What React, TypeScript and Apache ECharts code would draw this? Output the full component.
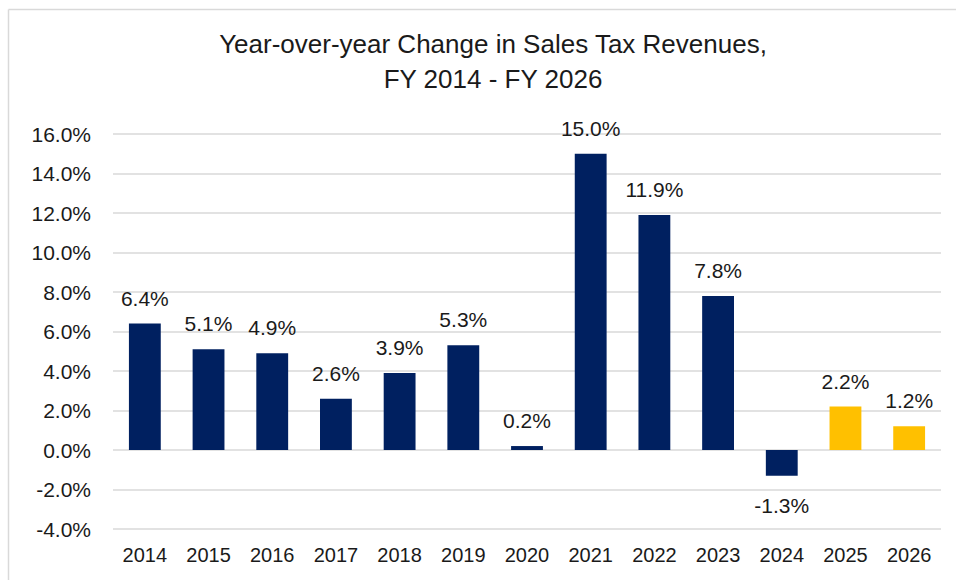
import React, { useEffect, useRef } from "react";
import * as echarts from "echarts";

const categories = ["2014", "2015", "2016", "2017", "2018", "2019", "2020", "2021", "2022", "2023", "2024", "2025", "2026"];
const values = [6.4, 5.1, 4.9, 2.6, 3.9, 5.3, 0.2, 15.0, 11.9, 7.8, -1.3, 2.2, 1.2];
const projected = [false, false, false, false, false, false, false, false, false, false, false, true, true];
const titleLines = ["Year-over-year Change in Sales Tax Revenues,", "FY 2014 - FY 2026"];

const NAVY = "#002060";
const GOLD = "#FFC000";
const FONT = "'Liberation Sans', Arial, sans-serif";
const TEXT = "#1a1a1a";

export default function App() {
  const ref = useRef<HTMLDivElement>(null);
  useEffect(() => {
    if (!ref.current) return;
    const chart = echarts.init(ref.current, undefined, { renderer: "svg" });
    chart.setOption({
      animation: false,
      backgroundColor: "#fff",
      title: {
        text: titleLines.join("\n"),
        left: 488,
        top: 21,
        textAlign: "center",
        textStyle: { fontFamily: FONT, fontSize: 26, fontWeight: "normal", color: TEXT, lineHeight: 35 },
      },
      graphic: [
        { type: "line", shape: { x1: 8.5, y1: 9.5, x2: 956, y2: 9.5 }, style: { stroke: "#D9D9D9", lineWidth: 1.5 } },
        { type: "line", shape: { x1: 8.5, y1: 9.5, x2: 8.5, y2: 580 }, style: { stroke: "#D9D9D9", lineWidth: 1.5 } },
      ],
      grid: { left: 113, right: 15, top: 134, bottom: 51, containLabel: false },
      xAxis: {
        type: "category",
        data: categories,
        axisLine: { show: false },
        axisTick: { show: false },
        axisLabel: { fontFamily: FONT, fontSize: 20, color: TEXT, margin: 0, verticalAlign: "top", interval: 0 },
        position: "bottom",
        offset: 16,
      },
      yAxis: {
        type: "value",
        min: -4,
        max: 16,
        interval: 2,
        axisLine: { show: false },
        axisTick: { show: false },
        splitLine: { lineStyle: { color: "#D9D9D9", width: 1.5 } },
        axisLabel: {
          fontFamily: FONT,
          fontSize: 21,
          color: TEXT,
          margin: 22,
          formatter: (v: number) => v.toFixed(1) + "%",
        },
      },
      series: [
        {
          type: "bar",
          barWidth: "50%",
          data: values.map((v, i) => ({
            value: v,
            itemStyle: { color: projected[i] ? GOLD : NAVY },
            label: { position: v < 0 ? "bottom" : "top", distance: v < 0 ? 19 : 15 },
          })),
          label: {
            show: true,
            fontFamily: FONT,
            fontSize: 21,
            color: TEXT,
            formatter: (p: any) => p.value.toFixed(1) + "%",
          },
        },
      ],
    });
    return () => chart.dispose();
  }, []);
  return <div ref={ref} style={{ position: "absolute", left: 0, top: 0, width: 956, height: 580 }} />;
}
